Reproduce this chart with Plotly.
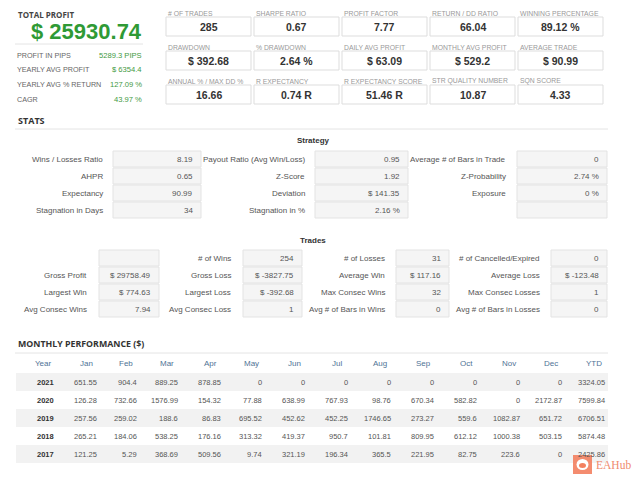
import plotly.graph_objects as go

# ---------------- data ----------------
total_profit = "$ 25930.74"
summary_labels = ["PROFIT IN PIPS", "YEARLY AVG PROFIT", "YEARLY AVG % RETURN", "CAGR"]
summary_values = ["5289.3 PIPS", "$ 6354.4", "127.09 %", "43.97 %"]

kpi_labels = [
    ["# OF TRADES", "SHARPE RATIO", "PROFIT FACTOR", "RETURN / DD RATIO", "WINNING PERCENTAGE"],
    ["DRAWDOWN", "% DRAWDOWN", "DAILY AVG PROFIT", "MONTHLY AVG PROFIT", "AVERAGE TRADE"],
    ["ANNUAL % / MAX DD %", "R EXPECTANCY", "R EXPECTANCY SCORE", "STR QUALITY NUMBER", "SQN SCORE"],
]
kpi_values = [
    ["285", "0.67", "7.77", "66.04", "89.12 %"],
    ["$ 392.68", "2.64 %", "$ 63.09", "$ 529.2", "$ 90.99"],
    ["16.66", "0.74 R", "51.46 R", "10.87", "4.33"],
]

strategy_labels = [
    ["Wins / Losses Ratio", "AHPR", "Expectancy", "Stagnation in Days"],
    ["Payout Ratio (Avg Win/Loss)", "Z-Score", "Deviation", "Stagnation in %"],
    ["Average # of Bars in Trade", "Z-Probability", "Exposure", ""],
]
strategy_values = [
    ["8.19", "0.65", "90.99", "34"],
    ["0.95", "1.92", "$ 141.35", "2.16 %"],
    ["0", "2.74 %", "0 %", ""],
]

trades_labels = [
    ["", "Gross Profit", "Largest Win", "Avg Consec Wins"],
    ["# of Wins", "Gross Loss", "Largest Loss", "Avg Consec Loss"],
    ["# of Losses", "Average Win", "Max Consec Wins", "Avg # of Bars in Wins"],
    ["# of Cancelled/Expired", "Average Loss", "Max Consec Losses", "Avg # of Bars in Losses"],
]
trades_values = [
    ["", "$ 29758.49", "$ 774.63", "7.94"],
    ["254", "$ -3827.75", "$ -392.68", "1"],
    ["31", "$ 117.16", "32", "0"],
    ["0", "$ -123.48", "1", "0"],
]

months = ["Jan", "Feb", "Mar", "Apr", "May", "Jun", "Jul", "Aug", "Sep", "Oct", "Nov", "Dec"]
years = ["2021", "2020", "2019", "2018", "2017"]
perf_2021 = [651.55, 904.4, 889.25, 878.85, 0, 0, 0, 0, 0, 0, 0, 0]
perf_2020 = [126.28, 732.66, 1576.99, 154.32, 77.88, 638.99, 767.93, 98.76, 670.34, 582.82, 0, 2172.87]
perf_2019 = [257.56, 259.02, 188.6, 86.83, 695.52, 452.62, 452.25, 1746.65, 273.27, 559.6, 1082.87, 651.72]
perf_2018 = [265.21, 184.06, 538.25, 176.16, 313.32, 419.37, 950.7, 101.81, 809.95, 612.12, 1000.38, 503.15]
perf_2017 = [121.25, 5.29, 368.69, 509.56, 9.74, 321.19, 196.34, 365.5, 221.95, 82.75, 223.6, 0]
ytd = [3324.05, 7599.84, 6706.51, 5874.48, 2425.86]

# ---------------- drawing ----------------
SANS = "Liberation Sans, Arial, sans-serif"
HEAD = "Open Sans, sans-serif"

shapes = []
notes = []


def text(x, y, s, size=8, color="#555", anchor="left", bold=False, family=SANS):
    notes.append(dict(x=x, y=y, xref="x", yref="y", text="<b>%s</b>" % s if bold else s,
                      xanchor=anchor, yanchor="middle", showarrow=False,
                      font=dict(size=size, color=color, family=family)))


def box(x0, y0, x1, y1, fill, line, lw=1):
    shapes.append(dict(type="rect", xref="x", yref="y", x0=x0, y0=y0, x1=x1, y1=y1,
                       fillcolor=fill, line=dict(color=line, width=lw), layer="below"))


def hline(x0, x1, y, color="#e4e4e4"):
    shapes.append(dict(type="line", xref="x", yref="y", x0=x0, x1=x1, y0=y, y1=y,
                       line=dict(color=color, width=1), layer="below"))


def fmt(v):
    return "%g" % v


# total profit block
text(16, 14, "TOTAL PROFIT", 8, "#444", bold=True, family=HEAD)
text(144, 31, total_profit, 22, "#2f9a35", "right", bold=True)
hline(15, 143, 44)
for i, (lab, val) in enumerate(zip(summary_labels, summary_values)):
    y = 55 + 14.8 * i
    text(15, y, lab, 7.2, "#666")
    text(144, y, val, 7.6, "#3f9a3f", "right")

# kpi grid
for r in range(3):
    ly = 13 + 34 * r
    for c in range(5):
        x0 = 166 + 88 * c
        text(x0, ly, kpi_labels[r][c], 6.8, "#999")
        box(x0, ly + 4, x0 + 85, ly + 23, "white", "#dddddd")
        text(x0 + 42.5, ly + 13.5, kpi_values[r][c], 10.5, "#333", "center", bold=True)

# stats
text(16, 120, "STATS", 9, "#333", bold=True, family=HEAD)
hline(15, 608, 129)

text(313, 140, "Strategy", 8, "#333", "center", bold=True)
strat_cols = [(105, 113, 201), (307, 315, 408), (508, 517, 607)]
for c, (lx, bx0, bx1) in enumerate(strat_cols):
    for r in range(4):
        top = 151 + 17 * r
        box(bx0, top, bx1, top + 16, "#f5f5f5", "#e3e3e3")
        if strategy_labels[c][r]:
            text(lx, top + 8, strategy_labels[c][r], 8, "#555", "right")
        if strategy_values[c][r]:
            text(bx1 - 6, top + 8, strategy_values[c][r], 8, "#555", "right")

text(313, 240, "Trades", 8, "#333", "center", bold=True)
trade_cols = [(89, 99, 159), (233, 243, 302), (387, 396, 449), (542, 551, 607)]
for c, (lx, bx0, bx1) in enumerate(trade_cols):
    for r in range(4):
        top = 250 + 17 * r
        box(bx0, top, bx1, top + 16, "#f5f5f5", "#e3e3e3")
        if trades_labels[c][r]:
            text(lx, top + 8, trades_labels[c][r], 8, "#555", "right")
        if trades_values[c][r]:
            text(bx1 - 6, top + 8, trades_values[c][r], 8, "#555", "right")

# monthly performance table
text(16, 344, "MONTHLY PERFORMANCE ($)", 8.8, "#333", bold=True, family=HEAD)
hline(15, 608, 353)
col_right = [56, 99, 139, 180, 223, 264, 307, 350, 393, 436, 479, 522, 564, 607]
headers = ["Year"] + months + ["YTD"]
for j, h in enumerate(headers):
    text(col_right[j] - 13, 363, h, 8, "#4f7396", "center")

rows = [perf_2021, perf_2020, perf_2019, perf_2018, perf_2017]
for i, yr in enumerate(years):
    yc = 382 + 18 * i
    if i % 2 == 0:
        box(16, yc - 9, 608, yc + 9, "#f2f2f2", "#f2f2f2", 0)
    cells = [yr] + [fmt(v) for v in rows[i]] + [fmt(ytd[i])]
    for j, s in enumerate(cells):
        if j == 0:
            text(col_right[j], yc, s, 7.5, "#333", "right", bold=True)
        else:
            text(col_right[j], yc, s, 7.5, "#555", "right")

# watermark
shapes.append(dict(type="rect", xref="x", yref="y", x0=573, x1=592, y0=455, y1=474,
                   fillcolor="#f3805f", line=dict(width=0), opacity=0.9))
shapes.append(dict(type="circle", xref="x", yref="y", x0=576.5, x1=588.5, y0=459, y1=470,
                   fillcolor="white", line=dict(width=0)))
shapes.append(dict(type="circle", xref="x", yref="y", x0=579, x1=586, y0=463, y1=468,
                   fillcolor="#f3805f", line=dict(width=0)))
text(594, 465, "EAHub", 11.5, "#f08a6e", "left", family="Liberation Serif, serif")

fig = go.Figure(go.Scatter(x=[], y=[], hoverinfo="skip", showlegend=False))
fig.update_layout(
    width=640, height=480,
    margin=dict(l=0, r=0, t=0, b=0),
    paper_bgcolor="white", plot_bgcolor="white",
    xaxis=dict(range=[0, 640], visible=False, fixedrange=True),
    yaxis=dict(range=[480, 0], visible=False, fixedrange=True),
    shapes=shapes, annotations=notes,
)
fig.write_html("out.html", config={"displayModeBar": False},
               post_script="document.body.style.margin='0';document.body.style.overflow='hidden';")
